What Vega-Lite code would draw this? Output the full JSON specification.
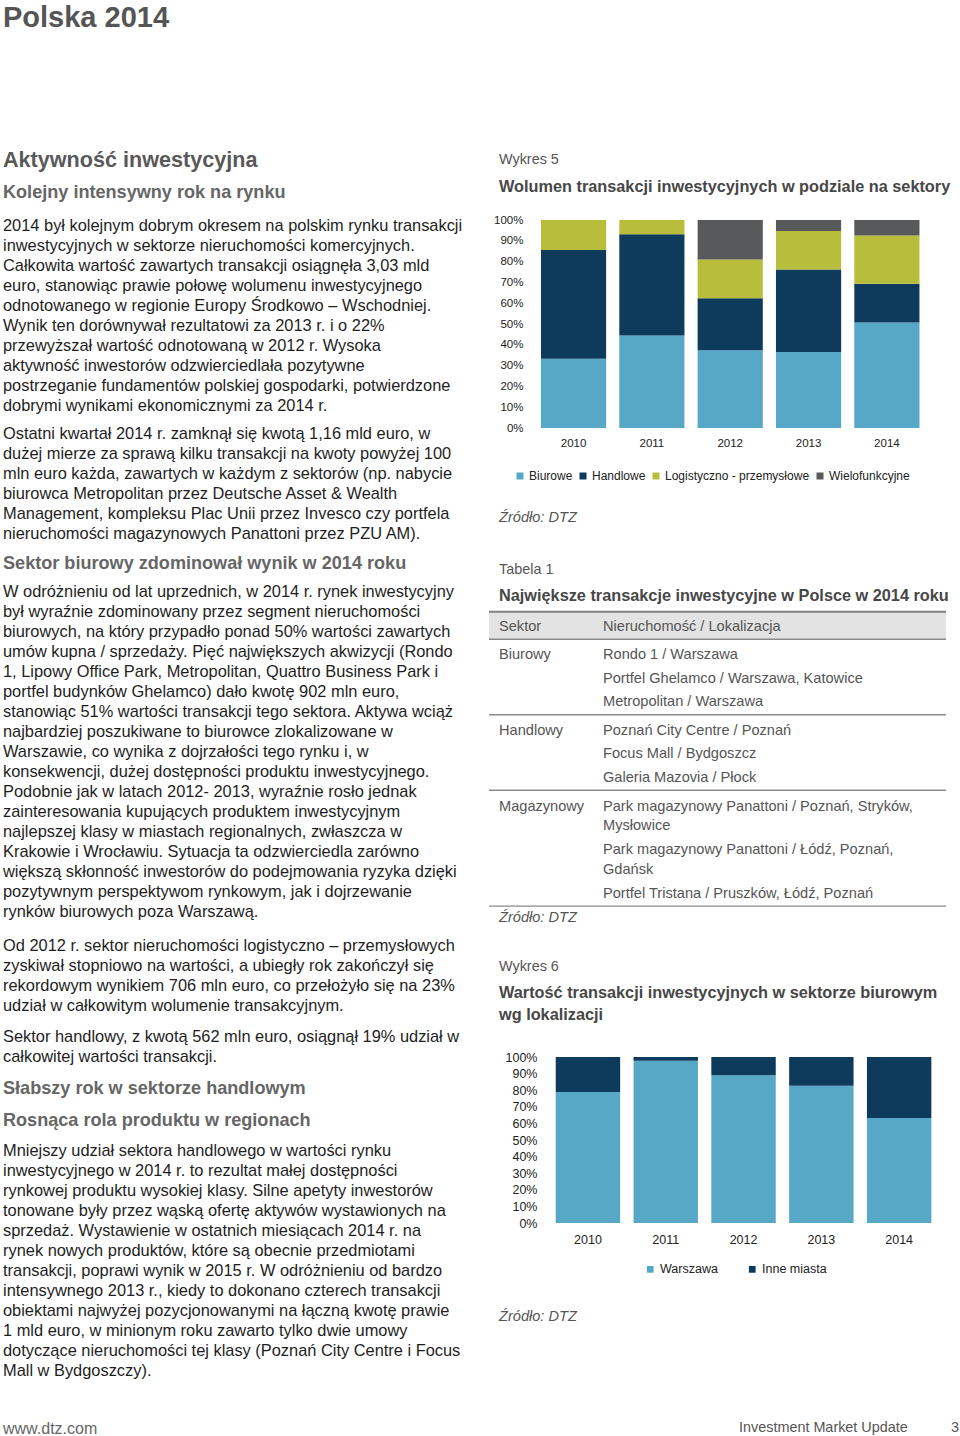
{
  "$schema": "https://vega.github.io/schema/vega-lite/v6.json",
  "background": "white",
  "padding": {"left": 3, "top": 0, "right": 0, "bottom": 0},
  "config": {"view": {"stroke": null}, "font": "Liberation Sans"},
  "datasets": {
    "left": [
      {"kind": "title", "line": -10.57, "text": "Polska 2014"},
      {"kind": "h1", "line": -3.42, "text": "Aktywność inwestycyjna"},
      {"kind": "h2", "line": -1.81, "text": "Kolejny intensywny rok na rynku"},
      {"kind": "body", "line": -0.15, "text": "2014 był kolejnym dobrym okresem na polskim rynku transakcji"},
      {"kind": "body", "line": 0.85, "text": "inwestycyjnych w sektorze nieruchomości komercyjnych."},
      {"kind": "body", "line": 1.85, "text": "Całkowita wartość zawartych transakcji osiągnęła 3,03 mld"},
      {"kind": "body", "line": 2.85, "text": "euro, stanowiąc prawie połowę wolumenu inwestycyjnego"},
      {"kind": "body", "line": 3.85, "text": "odnotowanego w regionie Europy Środkowo – Wschodniej."},
      {"kind": "body", "line": 4.85, "text": "Wynik ten dorównywał rezultatowi za 2013 r. i o 22%"},
      {"kind": "body", "line": 5.85, "text": "przewyższał wartość odnotowaną w 2012 r. Wysoka"},
      {"kind": "body", "line": 6.85, "text": "aktywność inwestorów odzwierciedlała pozytywne"},
      {"kind": "body", "line": 7.85, "text": "postrzeganie fundamentów polskiej gospodarki, potwierdzone"},
      {"kind": "body", "line": 8.85, "text": "dobrymi wynikami ekonomicznymi za 2014 r."},
      {"kind": "body", "line": 10.25, "text": "Ostatni kwartał 2014 r. zamknął się kwotą 1,16 mld euro, w"},
      {"kind": "body", "line": 11.25, "text": "dużej mierze za sprawą kilku transakcji na kwoty powyżej 100"},
      {"kind": "body", "line": 12.25, "text": "mln euro każda, zawartych w każdym z sektorów (np. nabycie"},
      {"kind": "body", "line": 13.25, "text": "biurowca Metropolitan przez Deutsche Asset & Wealth"},
      {"kind": "body", "line": 14.25, "text": "Management, kompleksu Plac Unii przez Invesco czy portfela"},
      {"kind": "body", "line": 15.25, "text": "nieruchomości magazynowych Panattoni przez PZU AM)."},
      {"kind": "h2", "line": 16.74, "text": "Sektor biurowy zdominował wynik w 2014 roku"},
      {"kind": "body", "line": 18.11, "text": "W odróżnieniu od lat uprzednich, w 2014 r. rynek inwestycyjny"},
      {"kind": "body", "line": 19.11, "text": "był wyraźnie zdominowany przez segment nieruchomości"},
      {"kind": "body", "line": 20.11, "text": "biurowych, na który przypadło ponad 50% wartości zawartych"},
      {"kind": "body", "line": 21.11, "text": "umów kupna / sprzedaży. Pięć największych akwizycji (Rondo"},
      {"kind": "body", "line": 22.11, "text": "1, Lipowy Office Park, Metropolitan, Quattro Business Park i"},
      {"kind": "body", "line": 23.11, "text": "portfel budynków Ghelamco) dało kwotę 902 mln euro,"},
      {"kind": "body", "line": 24.11, "text": "stanowiąc 51% wartości transakcji tego sektora. Aktywa wciąż"},
      {"kind": "body", "line": 25.11, "text": "najbardziej poszukiwane to biurowce zlokalizowane w"},
      {"kind": "body", "line": 26.11, "text": "Warszawie, co wynika z dojrzałości tego rynku i, w"},
      {"kind": "body", "line": 27.11, "text": "konsekwencji, dużej dostępności produktu inwestycyjnego."},
      {"kind": "body", "line": 28.11, "text": "Podobnie jak w latach 2012- 2013, wyraźnie rosło jednak"},
      {"kind": "body", "line": 29.11, "text": "zainteresowania kupujących produktem inwestycyjnym"},
      {"kind": "body", "line": 30.11, "text": "najlepszej klasy w miastach regionalnych, zwłaszcza w"},
      {"kind": "body", "line": 31.11, "text": "Krakowie i Wrocławiu. Sytuacja ta odzwierciedla zarówno"},
      {"kind": "body", "line": 32.11, "text": "większą skłonność inwestorów do podejmowania ryzyka dzięki"},
      {"kind": "body", "line": 33.11, "text": "pozytywnym perspektywom rynkowym, jak i dojrzewanie"},
      {"kind": "body", "line": 34.11, "text": "rynków biurowych poza Warszawą."},
      {"kind": "body", "line": 35.85, "text": "Od 2012 r. sektor nieruchomości logistyczno – przemysłowych"},
      {"kind": "body", "line": 36.85, "text": "zyskiwał stopniowo na wartości, a ubiegły rok zakończył się"},
      {"kind": "body", "line": 37.85, "text": "rekordowym wynikiem 706 mln euro, co przełożyło się na 23%"},
      {"kind": "body", "line": 38.85, "text": "udział w całkowitym wolumenie transakcyjnym."},
      {"kind": "body", "line": 40.4, "text": "Sektor handlowy, z kwotą 562 mln euro, osiągnął 19% udział w"},
      {"kind": "body", "line": 41.4, "text": "całkowitej wartości transakcji."},
      {"kind": "h2", "line": 43.0, "text": "Słabszy rok w sektorze handlowym"},
      {"kind": "h2", "line": 44.59, "text": "Rosnąca rola produktu w regionach"},
      {"kind": "body", "line": 46.1, "text": "Mniejszy udział sektora handlowego w wartości rynku"},
      {"kind": "body", "line": 47.1, "text": "inwestycyjnego w 2014 r. to rezultat małej dostępności"},
      {"kind": "body", "line": 48.1, "text": "rynkowej produktu wysokiej klasy. Silne apetyty inwestorów"},
      {"kind": "body", "line": 49.1, "text": "tonowane były przez wąską ofertę aktywów wystawionych na"},
      {"kind": "body", "line": 50.1, "text": "sprzedaż. Wystawienie w ostatnich miesiącach 2014 r. na"},
      {"kind": "body", "line": 51.1, "text": "rynek nowych produktów, które są obecnie przedmiotami"},
      {"kind": "body", "line": 52.1, "text": "transakcji, poprawi wynik w 2015 r. W odróżnieniu od bardzo"},
      {"kind": "body", "line": 53.1, "text": "intensywnego 2013 r., kiedy to dokonano czterech transakcji"},
      {"kind": "body", "line": 54.1, "text": "obiektami najwyżej pozycjonowanymi na łączną kwotę prawie"},
      {"kind": "body", "line": 55.1, "text": "1 mld euro, w minionym roku zawarto tylko dwie umowy"},
      {"kind": "body", "line": 56.1, "text": "dotyczące nieruchomości tej klasy (Poznań City Centre i Focus"},
      {"kind": "body", "line": 57.1, "text": "Mall w Bydgoszczy)."},
      {"kind": "footer", "line": 59.97, "text": "www.dtz.com"}
    ],
    "r0": [
      {"kind": "label", "col": "a", "line": -3.48, "text": "Wykres 5"},
      {"kind": "title", "col": "a", "line": -2.1, "text": "Wolumen transakcji inwestycyjnych w podziale na sektory"}
    ],
    "mid": [
      {"kind": "source", "col": "a", "line": 14.45, "text": "Źródło: DTZ"},
      {"kind": "label", "col": "a", "line": 17.03, "text": "Tabela 1"},
      {"kind": "title", "col": "a", "line": 18.31, "text": "Największe transakcje inwestycyjne w Polsce w 2014 roku"},
      {"kind": "cell", "col": "a", "line": 19.89, "text": "Sektor"},
      {"kind": "cell", "col": "b", "line": 19.89, "text": "Nieruchomość / Lokalizacja"},
      {"kind": "cell", "col": "a", "line": 21.3, "text": "Biurowy"},
      {"kind": "cell", "col": "b", "line": 21.3, "text": "Rondo 1 / Warszawa"},
      {"kind": "cell", "col": "b", "line": 22.46, "text": "Portfel Ghelamco / Warszawa, Katowice"},
      {"kind": "cell", "col": "b", "line": 23.63, "text": "Metropolitan / Warszawa"},
      {"kind": "cell", "col": "a", "line": 25.07, "text": "Handlowy"},
      {"kind": "cell", "col": "b", "line": 25.07, "text": "Poznań City Centre / Poznań"},
      {"kind": "cell", "col": "b", "line": 26.25, "text": "Focus Mall / Bydgoszcz"},
      {"kind": "cell", "col": "b", "line": 27.41, "text": "Galeria Mazovia / Płock"},
      {"kind": "cell", "col": "a", "line": 28.88, "text": "Magazynowy"},
      {"kind": "cell", "col": "b", "line": 28.88, "text": "Park magazynowy Panattoni / Poznań, Stryków,"},
      {"kind": "cell", "col": "b", "line": 29.85, "text": "Mysłowice"},
      {"kind": "cell", "col": "b", "line": 31.01, "text": "Park magazynowy Panattoni / Łódź, Poznań,"},
      {"kind": "cell", "col": "b", "line": 32.05, "text": "Gdańsk"},
      {"kind": "cell", "col": "b", "line": 33.25, "text": "Portfel Tristana / Pruszków, Łódź, Poznań"},
      {"kind": "source", "col": "a", "line": 34.45, "text": "Źródło: DTZ"},
      {"kind": "label", "col": "a", "line": 36.9, "text": "Wykres 6"},
      {"kind": "title", "col": "a", "line": 38.19, "text": "Wartość transakcji inwestycyjnych w sektorze biurowym"},
      {"kind": "title", "col": "a", "line": 39.27, "text": "wg lokalizacji"}
    ],
    "bottom": [
      {"kind": "source", "col": "a", "line": 54.36, "text": "Źródło: DTZ"},
      {"kind": "footer", "col": "b", "line": 59.93, "text": "Investment Market Update"},
      {"kind": "page", "col": "c", "line": 59.93, "text": "3"}
    ],
    "rules": [
      {"kind": "top", "line": 19.12},
      {"kind": "sep", "line": 20.5},
      {"kind": "sep", "line": 24.27},
      {"kind": "sep", "line": 28.05},
      {"kind": "sep", "line": 33.84}
    ],
    "band": [{"from": 19.12, "to": 20.5}],
    "sectors": [
      {"year": "2010", "sector": "Biurowe", "share": 33.3},
      {"year": "2010", "sector": "Handlowe", "share": 52.3},
      {"year": "2010", "sector": "Logistyczno - przemysłowe", "share": 14.4},
      {"year": "2011", "sector": "Biurowe", "share": 44.5},
      {"year": "2011", "sector": "Handlowe", "share": 48.6},
      {"year": "2011", "sector": "Logistyczno - przemysłowe", "share": 6.9},
      {"year": "2012", "sector": "Biurowe", "share": 37.4},
      {"year": "2012", "sector": "Handlowe", "share": 25.0},
      {"year": "2012", "sector": "Logistyczno - przemysłowe", "share": 18.6},
      {"year": "2012", "sector": "Wielofunkcyjne", "share": 19.0},
      {"year": "2013", "sector": "Biurowe", "share": 36.5},
      {"year": "2013", "sector": "Handlowe", "share": 39.7},
      {"year": "2013", "sector": "Logistyczno - przemysłowe", "share": 18.5},
      {"year": "2013", "sector": "Wielofunkcyjne", "share": 5.3},
      {"year": "2014", "sector": "Biurowe", "share": 50.7},
      {"year": "2014", "sector": "Handlowe", "share": 18.6},
      {"year": "2014", "sector": "Logistyczno - przemysłowe", "share": 23.3},
      {"year": "2014", "sector": "Wielofunkcyjne", "share": 7.4}
    ],
    "offices": [
      {"year": "2010", "city": "Warszawa", "share": 78.9},
      {"year": "2010", "city": "Inne miasta", "share": 21.1},
      {"year": "2011", "city": "Warszawa", "share": 97.8},
      {"year": "2011", "city": "Inne miasta", "share": 2.2},
      {"year": "2012", "city": "Warszawa", "share": 89.0},
      {"year": "2012", "city": "Inne miasta", "share": 11.0},
      {"year": "2013", "city": "Warszawa", "share": 82.7},
      {"year": "2013", "city": "Inne miasta", "share": 17.3},
      {"year": "2014", "city": "Warszawa", "share": 63.3},
      {"year": "2014", "city": "Inne miasta", "share": 36.7}
    ]
  },
  "bounds": "flush",
  "spacing": 20,
  "resolve": {"scale": {"x": "independent", "y": "independent", "color": "independent"}, "legend": {"color": "independent"}},
  "hconcat": [
    {
      "width": 466,
      "height": 1436,
      "data": {"name": "left"},
      "encoding": {
        "x": {"datum": 0, "type": "quantitative", "scale": {"domain": [0, 1]}, "axis": null},
        "y": {"field": "line", "type": "quantitative", "scale": {"domain": [-11.465, 60.335], "reverse": true, "nice": false, "zero": false}, "axis": null},
        "text": {"field": "text"}
      },
      "layer": [
        {"transform": [{"filter": "datum.kind === 'title'"}], "mark": {"type": "text", "align": "left", "baseline": "middle", "font": "Liberation Sans", "fontSize": 29, "fontWeight": "bold", "fill": "#555555"}},
        {"transform": [{"filter": "datum.kind === 'h1'"}], "mark": {"type": "text", "align": "left", "baseline": "middle", "font": "Liberation Sans", "fontSize": 21.6, "fontWeight": "bold", "fill": "#595959"}},
        {"transform": [{"filter": "datum.kind === 'h2'"}], "mark": {"type": "text", "align": "left", "baseline": "middle", "font": "Liberation Sans", "fontSize": 18.1, "fontWeight": "bold", "fill": "#666666"}},
        {"transform": [{"filter": "datum.kind === 'body'"}], "mark": {"type": "text", "align": "left", "baseline": "middle", "font": "Liberation Sans", "fontSize": 16.4, "fill": "#1e1e1e"}},
        {"transform": [{"filter": "datum.kind === 'footer'"}], "mark": {"type": "text", "align": "left", "baseline": "middle", "font": "Liberation Sans", "fontSize": 16, "fill": "#666666"}}
      ]
    },
    {
      "bounds": "flush",
      "spacing": 0,
      "resolve": {"scale": {"x": "independent", "y": "independent", "color": "independent"}, "legend": {"color": "independent"}},
      "vconcat": [
        {
          "width": 457,
          "height": 220,
          "data": {"name": "r0"},
          "encoding": {
            "x": {"field": "col", "type": "nominal", "scale": {"type": "point", "padding": 0, "domain": ["a", "b"], "range": [10, 114]}, "axis": null},
            "y": {"field": "line", "type": "quantitative", "scale": {"domain": [-11.465, -0.465], "reverse": true, "nice": false, "zero": false}, "axis": null},
            "text": {"field": "text"}
          },
          "layer": [
            {"transform": [{"filter": "datum.kind === 'label'"}], "mark": {"type": "text", "align": "left", "baseline": "middle", "font": "Liberation Sans", "fontSize": 14.4, "fill": "#555555"}},
            {"transform": [{"filter": "datum.kind === 'title'"}], "mark": {"type": "text", "align": "left", "baseline": "middle", "font": "Liberation Sans", "fontSize": 16.3, "fontWeight": "bold", "fill": "#474747"}}
          ]
        },
        {
          "width": 457,
          "height": 208,
          "data": {"name": "sectors"},
          "mark": {"type": "bar"},
          "encoding": {
            "x": {"field": "year", "type": "nominal", "scale": {"paddingInner": 0.168, "paddingOuter": 0.501, "align": 0.662},
              "axis": {"title": null, "labelAngle": 0, "domain": false, "ticks": false, "tickSize": 0, "labelPadding": 9.3, "labelFont": "Liberation Sans", "labelFontSize": 11.5, "labelColor": "#222222"}},
            "y": {"field": "share", "type": "quantitative", "stack": "normalize", "scale": {"domain": [0, 1], "nice": false},
              "axis": {"title": null, "format": ".0%", "values": [0, 0.1, 0.2, 0.3, 0.4, 0.5, 0.6, 0.7, 0.8, 0.9, 1], "grid": false, "domain": false, "ticks": false, "tickSize": 0, "labelPadding": 0, "offset": -34, "labelFont": "Liberation Sans", "labelFontSize": 11.5, "labelColor": "#222222", "labelOverlap": false, "labelFlush": false}},
            "color": {"field": "sector", "type": "nominal",
              "scale": {"domain": ["Biurowe", "Handlowe", "Logistyczno - przemysłowe", "Wielofunkcyjne"], "range": ["#57a7c6", "#0e3a5c", "#b8be3b", "#58595b"]},
              "legend": {"title": null, "orient": "none", "legendX": 25, "legendY": 250, "direction": "horizontal", "symbolType": "square", "symbolSize": 49, "symbolStrokeWidth": 0, "labelFont": "Liberation Sans", "labelFontSize": 12, "labelColor": "#222222", "labelOffset": 3, "columnPadding": 4, "padding": 0}},
            "order": {"field": "sector", "sort": "ascending"}
          }
        },
        {
          "width": 457,
          "height": 629,
          "layer": [
            {
              "data": {"name": "band"},
              "mark": {"type": "rect", "fill": "#e3e3e3"},
              "encoding": {
                "y": {"field": "from", "type": "quantitative", "scale": {"domain": [9.935, 41.385], "reverse": true, "nice": false, "zero": false}, "axis": null},
                "y2": {"field": "to"}
              }
            },
            {
              "data": {"name": "rules"},
              "transform": [{"filter": "datum.kind === 'top'"}],
              "mark": {"type": "rule", "stroke": "#7f7f7f", "strokeWidth": 2},
              "encoding": {"y": {"field": "line", "type": "quantitative", "scale": {"domain": [9.935, 41.385], "reverse": true, "nice": false, "zero": false}, "axis": null}}
            },
            {
              "data": {"name": "rules"},
              "transform": [{"filter": "datum.kind === 'sep'"}],
              "mark": {"type": "rule", "stroke": "#8a8a8a", "strokeWidth": 1.4},
              "encoding": {"y": {"field": "line", "type": "quantitative", "scale": {"domain": [9.935, 41.385], "reverse": true, "nice": false, "zero": false}, "axis": null}}
            },
            {
              "data": {"name": "mid"},
              "encoding": {
                "x": {"field": "col", "type": "nominal", "scale": {"type": "point", "padding": 0, "domain": ["a", "b"], "range": [10, 114]}, "axis": null},
                "y": {"field": "line", "type": "quantitative", "scale": {"domain": [9.935, 41.385], "reverse": true, "nice": false, "zero": false}, "axis": null},
                "text": {"field": "text"}
              },
              "layer": [
                {"transform": [{"filter": "datum.kind === 'label'"}], "mark": {"type": "text", "align": "left", "baseline": "middle", "font": "Liberation Sans", "fontSize": 14.4, "fill": "#555555"}},
                {"transform": [{"filter": "datum.kind === 'title'"}], "mark": {"type": "text", "align": "left", "baseline": "middle", "font": "Liberation Sans", "fontSize": 16.3, "fontWeight": "bold", "fill": "#474747"}},
                {"transform": [{"filter": "datum.kind === 'cell'"}], "mark": {"type": "text", "align": "left", "baseline": "middle", "font": "Liberation Sans", "fontSize": 14.6, "fill": "#555555"}},
                {"transform": [{"filter": "datum.kind === 'source'"}], "mark": {"type": "text", "align": "left", "baseline": "middle", "font": "Liberation Sans", "fontSize": 14.6, "fontStyle": "italic", "fill": "#555555"}}
              ]
            }
          ]
        },
        {
          "width": 457,
          "height": 166,
          "data": {"name": "offices"},
          "mark": {"type": "bar"},
          "encoding": {
            "x": {"field": "year", "type": "nominal", "scale": {"paddingInner": 0.172, "paddingOuter": 0.523, "align": 0.82},
              "axis": {"title": null, "labelAngle": 0, "domain": false, "ticks": false, "tickSize": 0, "labelPadding": 10.9, "labelFont": "Liberation Sans", "labelFontSize": 12.5, "labelColor": "#222222"}},
            "y": {"field": "share", "type": "quantitative", "stack": "normalize", "scale": {"domain": [0, 1], "nice": false},
              "axis": {"title": null, "format": ".0%", "values": [0, 0.1, 0.2, 0.3, 0.4, 0.5, 0.6, 0.7, 0.8, 0.9, 1], "grid": false, "domain": false, "ticks": false, "tickSize": 0, "labelPadding": 0, "offset": -48, "labelFont": "Liberation Sans", "labelFontSize": 12.5, "labelColor": "#222222", "labelOverlap": false, "labelFlush": false}},
            "color": {"field": "city", "type": "nominal",
              "scale": {"domain": ["Warszawa", "Inne miasta"], "range": ["#57a7c6", "#0e3a5c"]},
              "legend": {"title": null, "orient": "none", "legendX": 155, "legendY": 206, "direction": "horizontal", "symbolType": "square", "symbolSize": 45, "symbolStrokeWidth": 0, "labelFont": "Liberation Sans", "labelFontSize": 12.5, "labelColor": "#222222", "labelOffset": 3.5, "columnPadding": 28, "padding": 0}},
            "order": {"field": "city", "sort": "descending"}
          }
        },
        {
          "width": 457,
          "height": 213,
          "data": {"name": "bottom"},
          "encoding": {
            "x": {"field": "col", "type": "nominal", "scale": {"type": "point", "padding": 0, "domain": ["a", "b", "c"], "range": [10, 462]}, "axis": null},
            "y": {"field": "line", "type": "quantitative", "scale": {"domain": [49.685, 60.335], "reverse": true, "nice": false, "zero": false}, "axis": null},
            "text": {"field": "text"}
          },
          "layer": [
            {"transform": [{"filter": "datum.kind === 'source'"}], "mark": {"type": "text", "align": "left", "baseline": "middle", "font": "Liberation Sans", "fontSize": 14.6, "fontStyle": "italic", "fill": "#555555"}},
            {"transform": [{"filter": "datum.kind === 'footer'"}], "mark": {"type": "text", "align": "left", "baseline": "middle", "dx": 14, "font": "Liberation Sans", "fontSize": 14.4, "fill": "#555555"}},
            {"transform": [{"filter": "datum.kind === 'page'"}], "mark": {"type": "text", "align": "left", "baseline": "middle", "font": "Liberation Sans", "fontSize": 14.4, "fill": "#555555"}}
          ]
        }
      ]
    }
  ]
}
